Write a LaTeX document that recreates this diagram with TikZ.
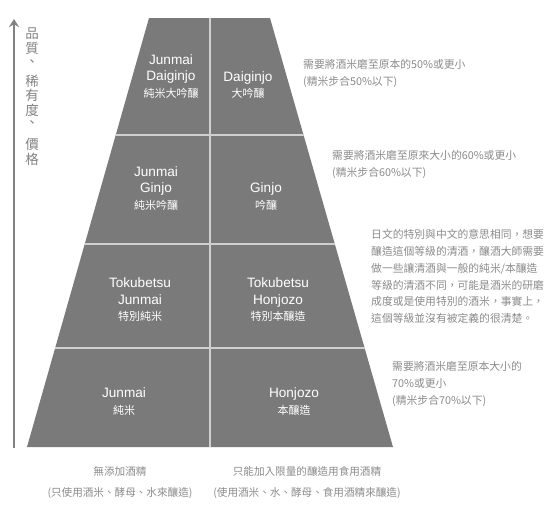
\documentclass[tikz,border=0pt]{standalone}
\usepackage{fontspec}
\setmainfont{Noto Sans CJK TC}
\newfontfamily\latinfont{Liberation Sans}
\usetikzlibrary{arrows.meta}
\definecolor{pyramidgray}{HTML}{7A7A7A}
\definecolor{notegray}{HTML}{8A8A8A}
\definecolor{linegray}{HTML}{D0D0D0}
\definecolor{axisgray}{HTML}{828282}
\newcommand{\lat}[1]{{\latinfont\fontsize{13.6}{16.5}\selectfont #1}}
\tikzset{
  gradelabel/.style={text=white, align=center, inner sep=0pt, font=\fontsize{11}{16.5}\selectfont},
  notelabel/.style={text=notegray, align=left, anchor=west, inner sep=0pt, font=\fontsize{10.8}{16.8}\selectfont},
  footlabel/.style={text=notegray, align=center, inner sep=0pt, font=\fontsize{10.6}{21}\selectfont},
  vchar/.style={text=axisgray, inner sep=0pt, font=\fontsize{13.5}{13.5}\selectfont},
  divider/.style={linegray, line width=1.5pt},
}

\begin{document}
\begin{tikzpicture}[x=1pt, y=-1pt]
\useasboundingbox (0,0) rectangle (550,528);
% Pyramid
\coordinate (tl) at (149,18);
\coordinate (tr) at (270,18);
\coordinate (br) at (393,447);
\coordinate (bl) at (27,447);
\fill[pyramidgray] (tl) -- (tr) -- (br) -- (bl) -- cycle;
\begin{scope}
  \clip (tl) -- (tr) -- (br) -- (bl) -- cycle;
  \foreach \y in {135,244,348}
    \draw[divider] (0,\y) -- (550,\y);
  \draw[divider] (210,0) -- (210,528);
\end{scope}
% Axis arrow
\coordinate (axisbase) at (14,448);
\coordinate (axistip) at (14,19);
\draw[axisgray, line width=2.4pt, -{Stealth[length=8pt, width=10pt]}] (axisbase) -- (axistip);
\foreach \c/\y [count=\i] in {品/34,質/48.5,、/63,稀/81,有/95.5,度/110,、/124.5,價/144,格/159}
  \node[vchar] (v\i) at (32,\y) {\c};
% Grade labels
\node[gradelabel] (jdaiginjo) at (171,76.5) {\lat{Junmai}\\\lat{Daiginjo}\\純米大吟釀};
\node[gradelabel] (daiginjo) at (248,85) {\lat{Daiginjo}\\大吟釀};
\node[gradelabel] (jginjo) at (156,188.5) {\lat{Junmai}\\\lat{Ginjo}\\純米吟釀};
\node[gradelabel] (ginjo) at (266,196.5) {\lat{Ginjo}\\吟釀};
\node[gradelabel] (tjunmai) at (140,300) {\lat{Tokubetsu}\\\lat{Junmai}\\特別純米};
\node[gradelabel] (thonjozo) at (278,300) {\lat{Tokubetsu}\\\lat{Honjozo}\\特別本釀造};
\node[gradelabel] (junmai) at (124,401.5) {\lat{Junmai}\\純米};
\node[gradelabel] (honjozo) at (294,401.5) {\lat{Honjozo}\\本釀造};
% Notes
\node[notelabel] (note1) at (303,73.5) {需要將酒米磨至原本的50\%或更小\\(精米步合50\%以下)};
\node[notelabel] (note2) at (332,164.5) {需要將酒米磨至原來大小的60\%或更小\\(精米步合60\%以下)};
\node[notelabel] (note3) at (371,276.5) {日文的特別與中文的意思相同，想要\\釀造這個等級的清酒，釀酒大師需要\\做一些讓清酒與一般的純米/本釀造\\等級的清酒不同，可能是酒米的研磨\\成度或是使用特別的酒米，事實上，\\這個等級並沒有被定義的很清楚。};
\node[notelabel] (note4) at (392,384) {需要將酒米磨至原本大小的\\70\%或更小\\(精米步合70\%以下)};
% Footer
\node[footlabel] (noalcohol) at (120,482.5) {無添加酒精\\(只使用酒米、酵母、水來釀造)};
\node[footlabel] (withalcohol) at (307,482.5) {只能加入限量的釀造用食用酒精\\(使用酒米、水、酵母、食用酒精來釀造)};
\end{tikzpicture}
\end{document}
